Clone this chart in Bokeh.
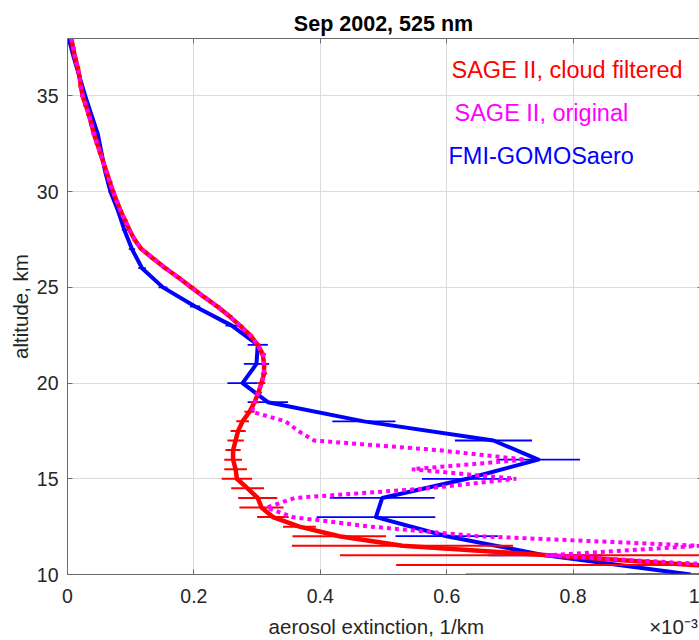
from bokeh.plotting import figure
from bokeh.models import (FixedTicker, LinearAxis, Label, CustomJSTickFormatter,
                          ColumnDataSource)
from bokeh.embed import file_html
from bokeh.resources import INLINE

# ---------------- data (extinction in units of 1e-3 1/km) ----------------
sage_alt = [38.0, 37.5, 37.0, 36.5, 36.0, 35.5, 35.0, 34.5, 34.0, 33.5,
            33.0, 32.5, 32.0, 31.5, 31.0, 30.5, 30.0, 29.5, 29.0, 28.5,
            28.0, 27.5, 27.0, 26.5, 26.0, 25.5, 25.0, 24.5, 24.0, 23.5,
            23.0, 22.5, 22.0, 21.5, 21.0, 20.5, 20.0, 19.5, 19.0, 18.5,
            18.0, 17.5, 17.0, 16.5, 16.0, 15.5, 15.0, 14.5, 14.0, 13.5,
            13.0, 12.5, 12.0, 11.5, 11.0, 10.5, 10.0]

sage_filtered = [0.006, 0.009, 0.012, 0.016, 0.019, 0.021, 0.024, 0.029, 0.034, 0.038,
                 0.042, 0.047, 0.052, 0.057, 0.062, 0.067, 0.072, 0.078, 0.084, 0.091,
                 0.098, 0.106, 0.117, 0.136, 0.155, 0.176, 0.196, 0.216, 0.237, 0.256,
                 0.273, 0.289, 0.301, 0.309, 0.311, 0.311, 0.307, 0.302, 0.296, 0.288,
                 0.277, 0.270, 0.266, 0.262, 0.262, 0.266, 0.268, 0.285, 0.301, 0.307,
                 0.325, 0.367, 0.430, 0.530, 0.761, 0.990, 1.250]

sage_filtered_err = [0.004, 0.004, 0.004, 0.004, 0.004, 0.004, 0.004, 0.004, 0.004, 0.004,
                     0.004, 0.004, 0.004, 0.004, 0.004, 0.004, 0.004, 0.004, 0.004, 0.004,
                     0.004, 0.004, 0.004, 0.005, 0.005, 0.005, 0.005, 0.005, 0.005, 0.005,
                     0.005, 0.005, 0.005, 0.005, 0.005, 0.005, 0.006, 0.006, 0.007, 0.008,
                     0.010, 0.012, 0.013, 0.012, 0.014, 0.018, 0.024, 0.026, 0.031, 0.035,
                     0.025, 0.026, 0.074, 0.175, 0.330, 0.470, 0.620]

sage_original = [0.006, 0.009, 0.012, 0.016, 0.019, 0.021, 0.024, 0.029, 0.034, 0.038,
                 0.042, 0.047, 0.052, 0.057, 0.062, 0.067, 0.072, 0.078, 0.084, 0.091,
                 0.098, 0.106, 0.117, 0.136, 0.155, 0.176, 0.196, 0.216, 0.237, 0.256,
                 0.273, 0.289, 0.301, 0.309, 0.311, 0.311, 0.307, 0.302, 0.296, 0.292,
                 0.345, 0.365, 0.390, 0.585, 0.725, 0.545, 0.710, 0.570, 0.360, 0.315,
                 0.356, 0.480, 0.650, 1.000, 0.756, 1.030, 1.300]

gomos_alt = [38, 37, 36, 35, 34, 33, 32, 31, 30, 29, 28, 27, 26, 25, 24,
             23, 22, 21, 20, 19, 18, 17, 16, 15, 14, 13, 12, 11, 10]

gomos = [0.002, 0.010, 0.019, 0.028, 0.038, 0.048, 0.054, 0.060, 0.068, 0.080,
         0.090, 0.102, 0.118, 0.151, 0.202, 0.260, 0.301, 0.299, 0.277, 0.317,
         0.469, 0.674, 0.745, 0.632, 0.498, 0.488, 0.600, 0.756, 0.986]

gomos_err = [0.002, 0.002, 0.002, 0.002, 0.002, 0.002, 0.002, 0.002, 0.003, 0.003,
             0.004, 0.005, 0.006, 0.007, 0.008, 0.010, 0.016, 0.020, 0.024, 0.032,
             0.050, 0.061, 0.066, 0.071, 0.083, 0.094, 0.081, 0.090, 0.100]

x_ticks = [0, 0.2, 0.4, 0.6, 0.8, 1.0]
x_grid_ticks = [0.2, 0.4, 0.6, 0.8]
y_ticks = [10, 15, 20, 25, 30, 35]
y_grid_ticks = [15, 20, 25, 30, 35]

title_text = "Sep 2002, 525 nm"
xlabel_text = "aerosol extinction, 1/km"
xscale_text = "×10⁻³"
ylabel_text = "altitude, km"
legend_items = ["SAGE II, cloud filtered", "SAGE II, original", "FMI-GOMOSaero"]

# ---------------- layout ----------------
W, H = 699, 640
LEFT, TOP, BOTTOM = 67, 38, 66
FRAME_W = W - LEFT
FRAME_H = H - TOP - BOTTOM
YMIN, YMAX = 10, 38
XMIN, XMAX = 0, 1.0

def px2x(px):                   # canvas px -> data x
    return XMIN + (px - LEFT) * (XMAX - XMIN) / FRAME_W

def px2y(py):                   # canvas px -> data y
    return YMIN + ((H - BOTTOM) - py) * (YMAX - YMIN) / FRAME_H

p = figure(width=W, height=H, x_range=(XMIN, XMAX), y_range=(YMIN, YMAX),
           output_backend="svg", toolbar_location=None,
           min_border_left=LEFT, min_border_right=0, min_border_top=TOP,
           min_border_bottom=BOTTOM)
p.outline_line_color = None
p.background_fill_color = "white"
p.border_fill_color = "white"

AX = "#6b6b6b"
TXT = "#262626"
FONT = "Liberation Sans"

# title
p.title.text = title_text
p.title.align = "center"
p.title.text_font = FONT
p.title.text_font_size = "21.5px"
p.title.text_font_style = "bold"
p.title.text_color = "#000000"
p.title.standoff = 6

fmt = CustomJSTickFormatter(code="return (Math.round(tick*10)/10).toString();")

xa = p.xaxis[0]
xa.ticker = FixedTicker(ticks=x_ticks)
xa.formatter = fmt
ya = p.yaxis[0]
ya.ticker = FixedTicker(ticks=y_ticks)
for ax in (xa, ya):
    ax.axis_line_color = AX
    ax.major_tick_line_color = AX
    ax.major_tick_in = 5
    ax.major_tick_out = 0
    ax.minor_tick_line_color = None
    ax.major_label_text_font = FONT
    ax.major_label_text_font_size = "19.5px"
    ax.major_label_text_color = TXT
    ax.axis_label_text_font = FONT
    ax.axis_label_text_font_size = "20.5px"
    ax.axis_label_text_font_style = "normal"
    ax.axis_label_text_color = TXT
xa.major_label_standoff = 14
ya.major_label_standoff = 9

# x label with the scale factor placed at the right end (padded with no-break spaces)
NB = "\u00a0"
xa.axis_label = NB * 35 + xlabel_text + NB * 29 + xscale_text
xa.axis_label_standoff = 9
ya.axis_label = ylabel_text
ya.axis_label_standoff = 2

# box axes on top/right: inward ticks only, labels not drawn
top = LinearAxis(ticker=FixedTicker(ticks=x_grid_ticks), major_label_text_font_size="1px",
                 major_label_text_color=None, major_label_standoff=0,
                 major_tick_in=5, major_tick_out=0,
                 minor_tick_line_color=None, axis_line_color=AX,
                 major_tick_line_color=AX)
p.add_layout(top, "above")
right = LinearAxis(ticker=FixedTicker(ticks=y_grid_ticks), major_label_text_font_size="1px",
                   major_label_text_color=None, major_label_standoff=0,
                   major_tick_in=2, major_tick_out=0,
                   minor_tick_line_color=None, axis_line_color=None,
                   major_tick_line_color=AX)
p.add_layout(right, "right")

p.xgrid.ticker = FixedTicker(ticks=x_grid_ticks)
p.ygrid.ticker = FixedTicker(ticks=y_grid_ticks)
for g in (p.xgrid, p.ygrid):
    g.grid_line_color = "#dcdcdc"
    g.grid_line_width = 1

RED, MAG, BLUE = "#ff0000", "#ff00ff", "#0000ff"

src_g = ColumnDataSource(dict(y=gomos_alt, x=gomos,
                              lo=[a - b for a, b in zip(gomos, gomos_err)],
                              hi=[a + b for a, b in zip(gomos, gomos_err)]))
src_r = ColumnDataSource(dict(y=sage_alt, x=sage_filtered,
                              lo=[a - b for a, b in zip(sage_filtered, sage_filtered_err)],
                              hi=[a + b for a, b in zip(sage_filtered, sage_filtered_err)]))
src_m = ColumnDataSource(dict(y=sage_alt, x=sage_original))

# GOMOS (blue)
p.segment(x0="lo", x1="hi", y0="y", y1="y", source=src_g, line_color=BLUE, line_width=1.8)
p.line("x", "y", source=src_g, line_color=BLUE, line_width=4, line_join="round")
# SAGE filtered (red)
p.segment(x0="lo", x1="hi", y0="y", y1="y", source=src_r, line_color=RED, line_width=2)
p.line("x", "y", source=src_r, line_color=RED, line_width=4.5, line_join="round")
# SAGE original (magenta dotted)
p.line("x", "y", source=src_m, line_color=MAG, line_width=4, line_dash="4 4")

# ---------------- legend texts ----------------
leg_colors = [RED, MAG, BLUE]
leg_x = [451, 454, 448]
leg_y = [69, 112, 155]
for t, c, lx, ly in zip(legend_items, leg_colors, leg_x, leg_y):
    p.add_layout(Label(x=px2x(lx), y=px2y(ly), text=t, text_font=FONT,
                       text_font_size="23.5px", text_color=c, text_align="left",
                       text_baseline="alphabetic"))

open("out.html", "w").write(file_html(p, INLINE))
